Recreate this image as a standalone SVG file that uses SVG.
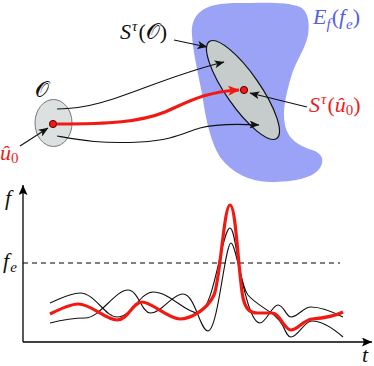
<svg xmlns="http://www.w3.org/2000/svg" width="374" height="366" viewBox="0 0 374 366">
<style>
.red{fill:#ee1c1c}
.blu{fill:#5560e6}
.thin{fill:none;stroke:#111;stroke-width:1.1}
.rc{fill:none;stroke:#f01a12;stroke-width:3.2;stroke-linejoin:round}
</style>
<defs>
<marker id="ah" markerUnits="userSpaceOnUse" markerWidth="11" markerHeight="8" refX="9.5" refY="4" orient="auto">
<path d="M0,0 L10,4 L0,8 L2.5,4 Z" fill="#111"/>
</marker>
<marker id="ahr" markerUnits="userSpaceOnUse" markerWidth="13" markerHeight="10" refX="11" refY="5" orient="auto">
<path d="M0,0 L12,5 L0,10 L3,5 Z" fill="#f01a12"/>
</marker>
<marker id="ax" markerUnits="userSpaceOnUse" markerWidth="11" markerHeight="9" refX="10" refY="4.5" orient="auto">
<path d="M0,0 L10,4.5 L0,9 L2,4.5 Z" fill="#000"/>
</marker>
</defs>

<g id="blob">
<path d="M200,12 C208,5 220,3 240,3 C260,3 285,1 300,7 C308,11 310,22 308,35 C305,50 296,60 291,77 C286,95 282,110 285,125 C288,140 300,146 312,150 C322,153 325,160 320,168 C313,178 295,182 270,182 C250,182 232,173 220,157 C211,143 206,120 203,100 C200,80 193,55 192,35 C191,25 194,17 200,12 Z" fill="#9aa3f6"/>
<text x="313" y="24" font-family="Liberation Serif, serif" font-size="22" fill="#5560e6"><tspan font-style="italic">E</tspan><tspan font-style="italic" font-size="15" dy="5">f</tspan><tspan dy="-5" dx="1">(</tspan><tspan font-style="italic">f</tspan><tspan font-style="italic" font-size="15" dy="5" dx="1">e</tspan><tspan dy="-5">)</tspan></text>
</g>

<g id="setO">
<ellipse cx="53.5" cy="123" rx="18.5" ry="23.5" fill="#dde0e0" stroke="#777" stroke-width="1"/>
<text x="35" y="97" font-family="Liberation Serif, serif" font-size="22" fill="#111">𝒪</text>
</g>

<g id="setS">
<ellipse cx="243" cy="90" rx="59" ry="17" transform="rotate(55.2 243 90)" fill="#c6cbcb" stroke="#111" stroke-width="1.2"/>
<text x="120" y="39" font-family="Liberation Serif, serif" font-size="22" fill="#111"><tspan font-style="italic">S</tspan><tspan font-style="italic" font-size="15" dy="-8" dx="1">τ</tspan><tspan dy="8" dx="1">(</tspan><tspan>𝒪</tspan><tspan>)</tspan></text>
</g>

<g id="connectors">
<path class="thin" d="M57,109 C110,109 150,80 224,62" marker-end="url(#ah)"/>
<path class="thin" d="M57,136 C80,140 100,144 140,142 C175,140 185,132 200,128 C215,124 240,124 259,125" marker-end="url(#ah)"/>
<path class="rc" d="M57,124 C110,124 140,122 165,112 C190,101 205,92 239,90" marker-end="url(#ahr)"/>
<path class="thin" d="M174,40 L207,47" marker-end="url(#ah)"/>
<path class="thin" d="M307,107 L250,93" marker-end="url(#ah)"/>
<path class="thin" d="M20,146 L48,128" marker-end="url(#ah)"/>
</g>

<g id="u0">
<circle cx="53" cy="124" r="3.6" fill="#f01a12" stroke="#500" stroke-width="1"/>
<text x="0" y="160" font-family="Liberation Serif, serif" font-size="22" fill="#ee1c1c"><tspan font-style="italic">û</tspan><tspan font-size="15" dy="3">0</tspan></text>
</g>

<g id="Su0">
<circle cx="244" cy="90" r="3.6" fill="#f01a12" stroke="#500" stroke-width="1"/>
<text x="309" y="112" font-family="Liberation Serif, serif" font-size="22" fill="#ee1c1c"><tspan font-style="italic">S</tspan><tspan font-style="italic" font-size="15" dy="-8" dx="1">τ</tspan><tspan dy="8" dx="1">(</tspan><tspan font-style="italic">û</tspan><tspan font-size="15" dy="3">0</tspan><tspan dy="-3">)</tspan></text>
</g>

<g id="plot">
<line x1="23" y1="342" x2="23" y2="185" stroke="#000" stroke-width="1.3" marker-end="url(#ax)"/>
<line x1="23" y1="342" x2="372" y2="342" stroke="#000" stroke-width="1.3" marker-end="url(#ax)"/>
<line x1="23" y1="263" x2="340" y2="263" stroke="#000" stroke-width="1" stroke-dasharray="5,4"/>
<text x="5" y="205" font-family="Liberation Serif, serif" font-size="22" font-style="italic" fill="#111">f</text>
<text x="3" y="268" font-family="Liberation Serif, serif" font-size="22" fill="#111"><tspan font-style="italic">f</tspan><tspan font-style="italic" font-size="15" dy="4" dx="1">e</tspan></text>
<text x="362" y="362" font-family="Liberation Serif, serif" font-size="22" font-style="italic" fill="#111">t</text>
<path class="thin" d="M50,303 C62,298 70,293 80,293 C95,293 105,317 117,317 C132,317 140,292 153,292 C170,292 185,313 198,313 C214,313 222,228 230,228 C236,228 238,282 248,295 C258,307 276,312 283,326 C286,333 288,337 291,337 C298,337 304,321 312,321 C322,321 335,330 343,337"/>
<path class="thin" d="M50,323 C62,320 75,318 85,318 C100,318 115,290 128,290 C138,290 142,313 150,313 C162,313 172,294 183,294 C195,294 200,331 208,331 C218,331 225,243 231,243 C237,243 246,323 260,323 C266,323 272,305 278,305 C284,305 286,317 291,317 C298,317 303,307 311,307 C322,307 333,312 343,317"/>
<path class="rc" d="M50,314 C60,309 70,304 78,304 C92,304 105,320 117,320 C128,320 133,302 142,302 C152,302 168,319 180,319 C190,319 207,310 214,295 C220,282 224,205 230,205 C236,205 238,270 243,298 C246,310 250,313 258,313 L272,313 C280,313 284,330 291,330 C298,330 303,320 312,319 C325,318 335,316 343,312"/>
</g>
</svg>
